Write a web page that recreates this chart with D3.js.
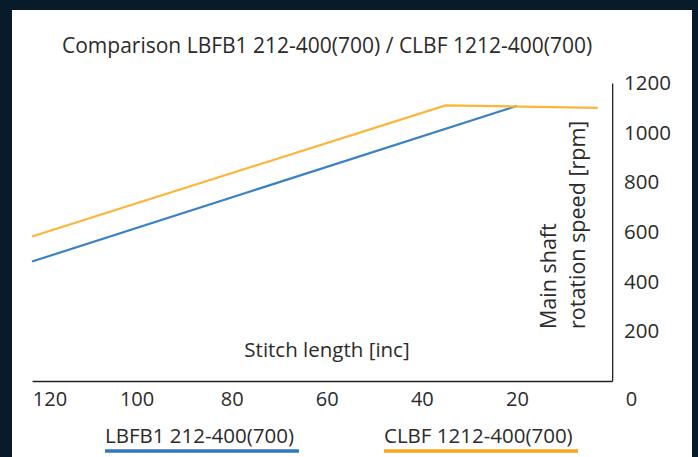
<!DOCTYPE html>
<html>
<head>
<meta charset="utf-8">
<script src="https://cdn.jsdelivr.net/npm/d3@7/dist/d3.min.js"></script>
<style>
  body { margin: 0; background: #071b2b; }
  text { font-family: "Open Sans", sans-serif; fill: #2b2b2b; }
</style>
</head>
<body>
<div id="chart"></div>
<script>
// stitch length [inc] vs main shaft speed [rpm]
var seriesNames = ["LBFB1 212-400(700)", "CLBF 1212-400(700)"];
var lbfbStitch = [122, 20];
var lbfbSpeed = [481, 1108];
var clbfStitch = [122, 35, 3];
var clbfSpeed = [582, 1110, 1100];
var xTicks = [120, 100, 80, 60, 40, 20, 0];
var yTicks = [200, 400, 600, 800, 1000, 1200];

var width = 698;
var height = 457;

var svg = d3.select("#chart")
    .append("svg")
    .attr("width", width)
    .attr("height", height);

// white card
svg.append("rect")
    .attr("x", 12)
    .attr("y", 10)
    .attr("width", 680)
    .attr("height", height - 10)
    .attr("fill", "#ffffff");

// tick labels on the right are cut by the picture edge
svg.append("clipPath").attr("id", "cut")
    .append("rect")
    .attr("x", 0).attr("y", 0)
    .attr("width", 670).attr("height", height);

var x = d3.scaleLinear().domain([0, 122]).range([612, 32]);
var y = d3.scaleLinear().domain([0, 1200]).range([381, 83]);

svg.append("text")
    .attr("x", 62)
    .attr("y", 53)
    .style("font-size", "21px")
    .text("Comparison LBFB1 212-400(700) / CLBF 1212-400(700)");

// x axis
var xAxis = svg.append("g")
    .attr("transform", "translate(0," + y(0) + ")")
    .call(d3.axisBottom(x).tickValues(xTicks).tickSize(0).tickSizeOuter(0).tickPadding(11));
xAxis.select(".domain").attr("stroke", "#222").attr("stroke-width", 1.6);
xAxis.selectAll("text")
    .style("font-size", "20px")
    .style("font-family", "'Open Sans', sans-serif")
    .attr("fill", "#2b2b2b")
    .attr("dx", function(d) { return d == 0 ? 19 : (d == 120 ? 8 : 0); });

// y axis
var yAxis = svg.append("g")
    .attr("transform", "translate(" + x(0) + ",0)")
    .attr("clip-path", "url(#cut)")
    .call(d3.axisRight(y).tickValues(yTicks).tickFormat(d3.format("d")).tickSize(0).tickSizeOuter(0).tickPadding(12));
yAxis.select(".domain").attr("stroke", "#222").attr("stroke-width", 1.6);
yAxis.selectAll("text")
    .style("font-size", "20.5px")
    .style("font-family", "'Open Sans', sans-serif")
    .attr("fill", "#2b2b2b");

svg.append("text")
    .attr("x", 327)
    .attr("y", 357)
    .attr("text-anchor", "middle")
    .style("font-size", "20.5px")
    .text("Stitch length [inc]");

var yTitle = svg.append("text")
    .attr("transform", "translate(556,329)rotate(-90)")
    .style("font-size", "21.5px");
yTitle.append("tspan").attr("x", 0).attr("y", 0).text("Main shaft");
yTitle.append("tspan").attr("x", 0).attr("y", 29).text("rotation speed [rpm]");

var line = d3.line()
    .x(function(d) { return x(d[0]); })
    .y(function(d) { return y(d[1]); });

svg.append("path")
    .datum(d3.zip(lbfbStitch, lbfbSpeed))
    .attr("fill", "none")
    .attr("stroke", "#3a82c4")
    .attr("stroke-width", 2.2)
    .attr("d", line);

svg.append("path")
    .datum(d3.zip(clbfStitch, clbfSpeed))
    .attr("fill", "none")
    .attr("stroke", "#fbb53a")
    .attr("stroke-width", 2.2)
    .attr("d", line);

// legend under the chart
var legendX = [105, 384];
var legendColors = ["#2f78b9", "#f7a520"];
var legend = svg.selectAll(".legend")
    .data(seriesNames)
    .enter()
    .append("g")
    .attr("class", "legend")
    .attr("transform", function(d, i) { return "translate(" + legendX[i] + ",0)"; });

legend.append("text")
    .attr("x", 0)
    .attr("y", 443)
    .style("font-size", "20.5px")
    .text(function(d) { return d; });

legend.append("line")
    .attr("x1", 0)
    .attr("x2", 194)
    .attr("y1", 451)
    .attr("y2", 451)
    .attr("stroke", function(d, i) { return legendColors[i]; })
    .attr("stroke-width", 3.5);
</script>
</body>
</html>
